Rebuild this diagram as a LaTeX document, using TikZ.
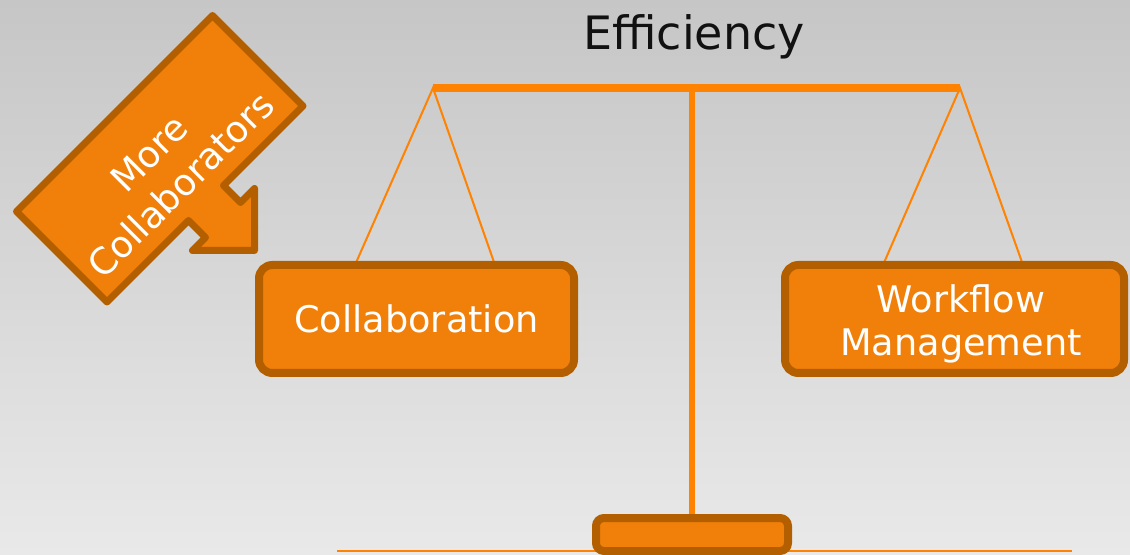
\documentclass[tikz,border=0pt]{standalone}
\usepackage{fontspec}
\setmainfont{DejaVu Sans}
\definecolor{bgtop}{RGB}{198,198,198}
\definecolor{bgbot}{RGB}{233,233,233}
\definecolor{boxfill}{RGB}{240,128,10}
\definecolor{boxline}{RGB}{179,95,0}
\definecolor{scaleor}{RGB}{255,130,0}
\definecolor{darktext}{RGB}{17,17,17}
\begin{document}
\begin{tikzpicture}[x=0.75pt,y=-0.75pt,
  box/.style={draw=boxline, fill=boxfill, line width=6pt, rounded corners=10pt, inner sep=0pt},
  boxtext/.style={text=white, font=\fontsize{27.5}{32}\selectfont, align=center, inner sep=0pt},
  beam/.style={draw=scaleor, line width=6pt},
  pole/.style={draw=scaleor, line width=4.5pt},
  stringline/.style={draw=scaleor, line width=1.5pt},
  arrowshape/.style={draw=boxline, fill=boxfill, line width=5.25pt, line join=round},
]
\useasboundingbox (0,0) rectangle (1130,555);
\shade[top color=bgtop, bottom color=bgbot] (0,0) rectangle (1130,555);

% scale beam ends and string ends
\coordinate (bl) at (433,88);
\coordinate (br) at (960,88);
\coordinate (ptop) at (692,88);
\coordinate (cl1) at (355,265);
\coordinate (cl2) at (495,265);
\coordinate (wl1) at (883,265);
\coordinate (wl2) at (1023,265);
\coordinate (g1) at (337,550.5);
\coordinate (g2) at (1072,550.5);

\draw[stringline] (cl1) -- (bl) -- (cl2);
\draw[stringline] (wl1) -- (br) -- (wl2);

\node[box, minimum width=236.25pt, minimum height=81pt] (coll) at (416.5,319) {};
\node[boxtext] (colltext) at (coll.center) {Collaboration};
\node[box, minimum width=254.25pt, minimum height=81pt] (wf) at (954.5,319) {};
\node[boxtext] (wftext) at (961,324) {Workflow\\Management};

\draw[beam] (bl) -- (br);
\draw[stringline] (g1) -- (g2);
\node[box, rounded corners=6pt, minimum width=144pt, minimum height=24.75pt] (base) at (692,534.5) {};
\draw[pole] (ptop) -- (base.north);

\node[text=darktext, font=\fontsize{34.5}{40}\selectfont, anchor=base, inner sep=0pt] (eff) at (694,50) {Efficiency};

\draw[arrowshape] (212.5,15.5) -- (303,106) -- (223.5,185.5) -- (240.5,202.5) -- (254.5,188.5) -- (254.5,250.5) -- (192.5,250.5) -- (205.5,237.5) -- (188.5,220.5) -- (107,302) -- (16.5,211.5) -- cycle;
\node[boxtext, font=\fontsize{27.5}{34}\selectfont, rotate=45] (more) at (165,169) {More\\Collaborators};
\end{tikzpicture}
\end{document}
